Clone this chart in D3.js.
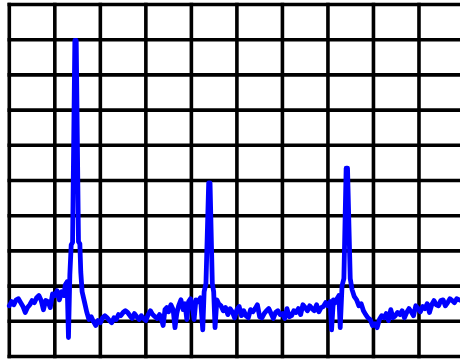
<!DOCTYPE html>
<html>
<head>
<meta charset="utf-8">
<script src="https://cdn.jsdelivr.net/npm/d3@7"></script>
<style>
  html, body { margin: 0; padding: 0; background: #fff; }
  svg { display: block; }
</style>
</head>
<body>
<svg id="chart" width="460" height="359"></svg>
<script>
// Frequency (MHz) of each sample
const freqMHz = [
  0,5,10,15,20,25,30,35,40,45,50,55,60,65,70,75,80,85,90,95,100,105,110,115,120,
  123,127,130,133,136,139,144,147,152,155,157,160,165,170,175,180,185,190,195,200,205,210,
  215,220,225,230,235,240,245,250,255,260,265,270,275,280,285,290,295,300,305,310,
  315,320,325,330,335,338,342,346,350,355,360,364,368,372,377,382,386,390,394,398,
  402,406,410,415,420,425,428,432,438,441,446,449,452,456,460,465,470,475,480,485,
  490,495,500,505,510,515,520,525,530,535,540,545,550,555,560,565,570,575,580,585,
  590,595,600,605,610,615,620,625,630,635,640,645,650,655,660,665,670,675,680,685,
  690,695,700,705,708,712,716,720,724,727,731,735,740,743,749,753,758,763,768,773,
  778,783,788,793,798,803,808,813,818,823,828,833,838,843,848,853,858,863,868,873,
  878,883,888,893,898,903,908,913,918,923,928,933,938,943,948,953,958,963,968,973,
  978,983,988,993
];
// Measured level (dB) of each sample
const levelDb = [
  -85.6,-84.4,-85.3,-83.9,-83.6,-84.7,-85.8,-87.5,-86.1,-85.3,-84.1,-84.7,-83.3,-82.7,-84.1,-86.7,-84.1,-84.4,-86.1,-82.2,-82.7,-81.3,-83.9,-81.6,-82.7,
  -79.6,-78.8,-94.6,-76.8,-68.3,-67.6,-10.2,-10.2,-67.4,-68.0,-76.0,-81.6,-84.4,-87.3,-89.5,-88.7,-90.1,-91.2,-89.8,-90.4,-89.0,-88.4,
  -89.0,-89.8,-90.4,-89.0,-89.5,-88.1,-88.4,-87.5,-87.0,-87.5,-88.4,-89.2,-87.8,-88.7,-89.5,-88.4,-89.2,-89.8,-88.1,-87.0,
  -88.1,-88.7,-89.2,-88.1,-89.8,-91.2,-86.7,-86.1,-87.3,-85.3,-86.7,-91.8,-87.8,-85.6,-83.9,-86.7,-85.0,-89.5,-84.4,-83.6,
  -85.6,-89.5,-83.9,-84.4,-83.3,-92.4,-81.6,-79.3,-50.7,-50.7,-79.3,-81.6,-91.8,-83.9,-85.0,-85.6,-87.0,-86.1,-88.1,-86.4,
  -87.3,-89.0,-86.7,-85.8,-88.4,-87.0,-88.4,-89.0,-86.7,-87.3,-86.4,-85.3,-88.7,-89.0,-87.8,-87.0,-86.4,-87.8,-89.2,-87.5,
  -87.0,-88.1,-87.8,-89.2,-86.4,-88.7,-88.4,-87.0,-87.5,-86.4,-88.1,-85.3,-86.1,-87.0,-85.6,-86.4,-87.0,-85.3,-87.3,-86.1,
  -85.8,-84.7,-85.6,-84.4,-92.4,-83.9,-84.7,-83.6,-82.7,-91.8,-79.9,-77.9,-46.5,-46.5,-77.9,-81.0,-83.0,-83.9,-85.6,-85.0,
  -87.0,-88.1,-89.0,-89.5,-91.2,-90.7,-91.8,-89.5,-88.4,-89.0,-87.8,-89.8,-86.7,-89.0,-88.4,-87.5,-88.1,-87.0,-89.0,-87.5,
  -86.4,-87.3,-88.4,-85.6,-86.4,-87.3,-85.8,-86.4,-85.0,-87.5,-85.3,-84.1,-85.3,-85.6,-84.1,-83.9,-85.6,-84.7,-83.6,-84.1,
  -84.7,-83.6,-83.9,-84.1
];
// Grid divisions
const freqTicks = [0,100,200,300,400,500,600,700,800,900,1000];
const levelTicks = [-100,-90,-80,-70,-60,-50,-40,-30,-20,-10,0];

const svg = d3.select("#chart");
const x = d3.scaleLinear().domain([0, 1000]).range([9.3, 464.5]);
const y = d3.scaleLinear().domain([-100, 0]).range([356.5, 4.5]);

const grid = svg.append("g")
  .attr("stroke", "#000")
  .attr("stroke-width", 3.6)
  .attr("stroke-linecap", "square");

grid.selectAll("line.h").data(levelTicks).join("line")
  .attr("class", "h")
  .attr("x1", x(0)).attr("x2", x(1000))
  .attr("y1", d => y(d)).attr("y2", d => y(d));

grid.selectAll("line.v").data(freqTicks).join("line")
  .attr("class", "v")
  .attr("x1", d => x(d)).attr("x2", d => x(d))
  .attr("y1", y(-100)).attr("y2", y(0));

const pts = freqMHz.map((f, i) => [f, levelDb[i]]);
const line = d3.line().x(d => x(d[0])).y(d => y(d[1]));

svg.append("path")
  .attr("d", line(pts))
  .attr("fill", "none")
  .attr("stroke", "#0000ff")
  .attr("stroke-width", 4.8)
  .attr("stroke-linejoin", "round")
  .attr("stroke-linecap", "round");
</script>
</body>
</html>
